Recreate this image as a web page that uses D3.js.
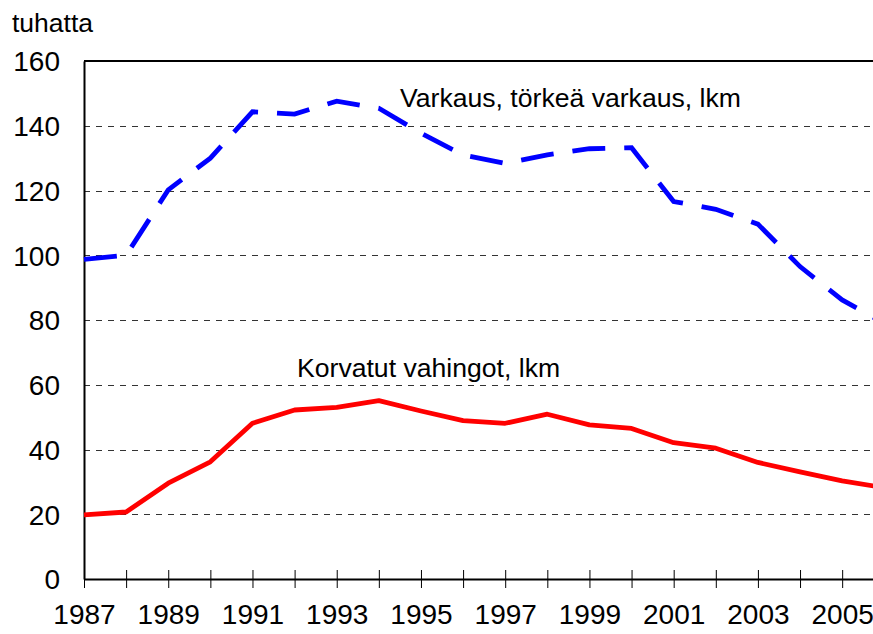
<!DOCTYPE html>
<html>
<head>
<meta charset="utf-8">
<script src="https://cdn.jsdelivr.net/npm/d3@7"></script>
<style>
  body { margin: 0; background: #fff; }
  text { font-family: "Liberation Sans", Arial, sans-serif; fill: #000; }
</style>
</head>
<body>
<script>
// data, in thousands
var years = [1987, 1988, 1989, 1990, 1991, 1992, 1993, 1994, 1995, 1996,
             1997, 1998, 1999, 2000, 2001, 2002, 2003, 2004, 2005, 2006];
var varkaus = [98.7, 100, 120.2, 130, 144.3, 143.6, 147.6, 145.4, 137.7, 131,
               128.4, 131, 132.9, 133.2, 116.6, 114.2, 109.6, 96.5, 86.2, 79];
var korvatut = [19.8, 20.7, 29.6, 36.2, 48.1, 52.2, 53, 55.1, 51.9, 48.9,
                48.1, 50.9, 47.6, 46.5, 42.1, 40.4, 36, 33.1, 30.3, 28.2];
var yTicks = [0, 20, 40, 60, 80, 100, 120, 140, 160];
var xLabelYears = [1987, 1989, 1991, 1993, 1995, 1997, 1999, 2001, 2003, 2005];
var unitLabel = "tuhatta";
var varkausLabel = "Varkaus, törkeä varkaus, lkm";
var korvatutLabel = "Korvatut vahingot, lkm";

var width = 873, height = 634;
var plotLeft = 84, plotTop = 61, plotBottom = 579;

var svg = d3.select("body").append("svg")
   .attr("width", width)
   .attr("height", height);

var x = d3.scaleLinear().domain([1987, 2006]).range([plotLeft, plotLeft + 19 * 42.12]);
var y = d3.scaleLinear().domain([0, 160]).range([plotBottom, plotTop]);

// gridlines
svg.selectAll("line.grid")
  .data(yTicks.filter(function(d) { return d > 0 && d < 160; }))
  .enter()
  .append("line")
  .attr("class", "grid")
  .attr("x1", plotLeft)
  .attr("x2", width)
  .attr("y1", function(d) { return Math.round(y(d)) + 0.5; })
  .attr("y2", function(d) { return Math.round(y(d)) + 0.5; })
  .style("stroke", "#333")
  .style("stroke-width", 1.2)
  .style("stroke-dasharray", "6,6");

// top border
svg.append("line")
  .attr("x1", plotLeft).attr("x2", width)
  .attr("y1", plotTop).attr("y2", plotTop)
  .style("stroke", "#000").style("stroke-width", 2);

// y axis
var yAxis = d3.axisLeft(y).tickValues(yTicks).tickSize(0).tickPadding(24);
var gy = svg.append("g").attr("transform", "translate(" + plotLeft + ",0)").call(yAxis);
gy.select(".domain").style("stroke", "#000").style("stroke-width", 2);
gy.selectAll("text")
  .style("font-size", "28px")
  .attr("dy", "0.35em");

// x axis with crossing ticks
var xAxis = d3.axisBottom(x).tickValues(years).tickSize(9).tickSizeOuter(0)
  .tickFormat(function(d) { return xLabelYears.indexOf(d) >= 0 ? d : ""; });
var gx = svg.append("g").attr("transform", "translate(0," + plotBottom + ")").call(xAxis);
gx.select(".domain").style("stroke", "#000").style("stroke-width", 2);
gx.selectAll(".tick line").attr("y1", -9).style("stroke", "#000").style("stroke-width", 1);
gx.selectAll("text")
  .style("font-size", "28px")
  .attr("y", 25)
  .attr("dy", "0.71em");

var line = d3.line()
  .x(function(d, i) { return x(years[i]); })
  .y(function(d) { return y(d); });

svg.append("path")
  .datum(korvatut)
  .attr("d", line)
  .style("fill", "none")
  .style("stroke", "#ff0000")
  .style("stroke-width", 4.8)
  .style("stroke-linejoin", "round");

svg.append("path")
  .datum(varkaus)
  .attr("d", line)
  .style("fill", "none")
  .style("stroke", "#0000ff")
  .style("stroke-width", 4.8)
  .style("stroke-dasharray", "33,19");

svg.append("text")
  .attr("x", 12).attr("y", 32)
  .style("font-size", "26.5px")
  .text(unitLabel);

svg.append("text")
  .attr("x", 400).attr("y", 107)
  .style("font-size", "26.6px")
  .text(varkausLabel);

svg.append("text")
  .attr("x", 297).attr("y", 377)
  .style("font-size", "26.6px")
  .text(korvatutLabel);
</script>
</body>
</html>
